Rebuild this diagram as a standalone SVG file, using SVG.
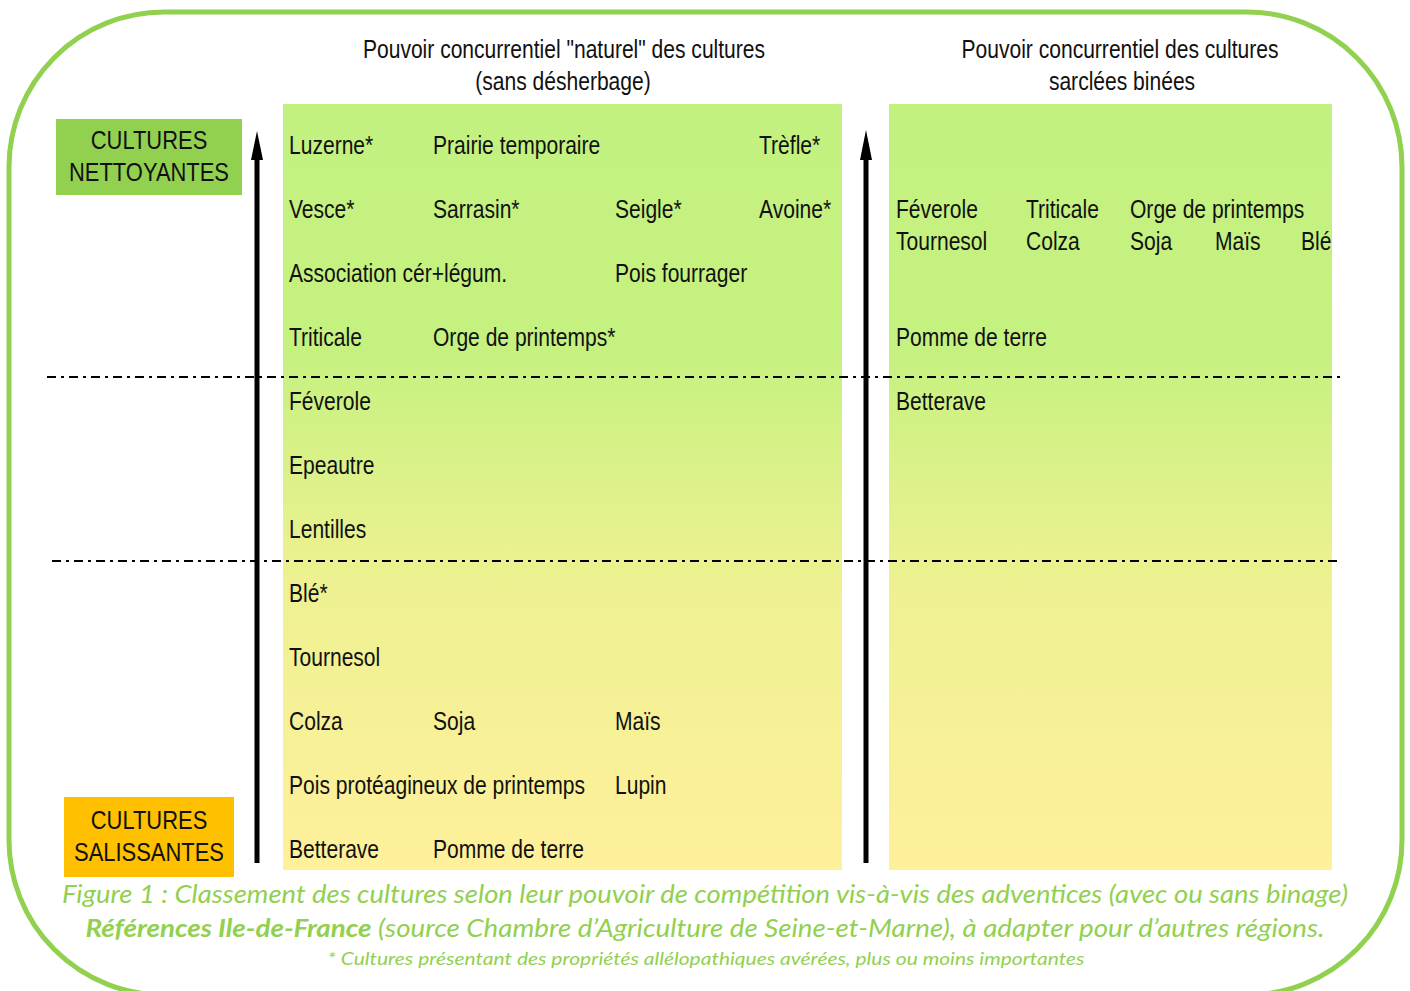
<svg xmlns="http://www.w3.org/2000/svg" width="1410" height="991" viewBox="0 0 1410 991">
<defs>
<linearGradient id="g" x1="0" y1="0" x2="0" y2="1">
<stop offset="0" stop-color="#c3f17f"/>
<stop offset="0.33" stop-color="#c6f180"/>
<stop offset="0.6" stop-color="#ecf190"/>
<stop offset="1" stop-color="#fff09c"/>
</linearGradient>
</defs>
<style>
.t{font-family:"Liberation Sans Narrow","Arial Narrow","Liberation Sans",sans-serif;font-size:26px;fill:#111}
.h{font-family:"Liberation Sans","Arial",sans-serif;font-size:26px;fill:#111;text-anchor:middle}
.lab{font-family:"Liberation Sans","Arial",sans-serif;font-size:25.5px;fill:#111;text-anchor:middle}
.cap{font-family:Lato,"Liberation Sans",sans-serif;font-style:italic;fill:#92d050;text-anchor:middle}
.dd{stroke:#000;stroke-width:2;stroke-dasharray:9 5 3 5;fill:none}
.ar{stroke:#000;stroke-width:5;fill:none}
.c{font-family:"Liberation Sans","Arial",sans-serif;font-size:26px;fill:#111}
</style>
<rect id="frame" x="9" y="12" width="1393" height="983" rx="155" ry="155" fill="#fff" stroke="#92d050" stroke-width="5"/>
<g id="panel-left"><rect x="283" y="104" width="559" height="766" fill="url(#g)"/></g>
<g id="panel-right"><rect x="889" y="104" width="443" height="766" fill="url(#g)"/></g>
<g id="title-left">
<text class="h" transform="matrix(0.81 0 0 1 564 58)">Pouvoir concurrentiel "naturel" des cultures</text>
<text class="h" transform="matrix(0.81 0 0 1 563 90)">(sans désherbage)</text>
</g>
<g id="title-right">
<text class="h" transform="matrix(0.81 0 0 1 1120 58)">Pouvoir concurrentiel des cultures</text>
<text class="h" transform="matrix(0.81 0 0 1 1122 90)">sarclées binées</text>
</g>
<g id="label-nettoyantes">
<rect x="56" y="119" width="186" height="76" fill="#92d050"/>
<text class="lab" transform="matrix(0.86 0 0 1 149 149)">CULTURES</text>
<text class="lab" transform="matrix(0.86 0 0 1 149 181)">NETTOYANTES</text>
</g>
<g id="label-salissantes">
<rect x="64" y="797" width="170" height="80" fill="#ffc000"/>
<text class="lab" transform="matrix(0.86 0 0 1 149 829)">CULTURES</text>
<text class="lab" transform="matrix(0.86 0 0 1 149 861)">SALISSANTES</text>
</g>
<g id="connectors">
<line class="ar" x1="257" y1="863" x2="257" y2="156"/>
<polygon points="257,131 263,160 251,160" fill="#000"/>
<line class="ar" x1="866" y1="863" x2="866" y2="156"/>
<polygon points="866,130 872,160 860,160" fill="#000"/>
<line class="dd" x1="47" y1="377" x2="1340" y2="377"/>
<line class="dd" x1="52" y1="561" x2="1339" y2="561"/>
</g>
<g id="crops-left">
<text class="c" transform="matrix(0.81 0 0 1 289 154)">Luzerne*</text>
<text class="c" transform="matrix(0.81 0 0 1 433 154)">Prairie temporaire</text>
<text class="c" transform="matrix(0.81 0 0 1 759 154)">Trèfle*</text>
<text class="c" transform="matrix(0.81 0 0 1 289 218)">Vesce*</text>
<text class="c" transform="matrix(0.81 0 0 1 433 218)">Sarrasin*</text>
<text class="c" transform="matrix(0.81 0 0 1 615 218)">Seigle*</text>
<text class="c" transform="matrix(0.81 0 0 1 759 218)">Avoine*</text>
<text class="c" transform="matrix(0.81 0 0 1 289 282)">Association cér+légum.</text>
<text class="c" transform="matrix(0.81 0 0 1 615 282)">Pois fourrager</text>
<text class="c" transform="matrix(0.81 0 0 1 289 346)">Triticale</text>
<text class="c" transform="matrix(0.81 0 0 1 433 346)">Orge de printemps*</text>
<text class="c" transform="matrix(0.81 0 0 1 289 410)">Féverole</text>
<text class="c" transform="matrix(0.81 0 0 1 289 474)">Epeautre</text>
<text class="c" transform="matrix(0.81 0 0 1 289 538)">Lentilles</text>
<text class="c" transform="matrix(0.81 0 0 1 289 602)">Blé*</text>
<text class="c" transform="matrix(0.81 0 0 1 289 666)">Tournesol</text>
<text class="c" transform="matrix(0.81 0 0 1 289 730)">Colza</text>
<text class="c" transform="matrix(0.81 0 0 1 433 730)">Soja</text>
<text class="c" transform="matrix(0.81 0 0 1 615 730)">Maïs</text>
<text class="c" transform="matrix(0.81 0 0 1 289 794)">Pois protéagineux de printemps</text>
<text class="c" transform="matrix(0.81 0 0 1 615 794)">Lupin</text>
<text class="c" transform="matrix(0.81 0 0 1 289 858)">Betterave</text>
<text class="c" transform="matrix(0.81 0 0 1 433 858)">Pomme de terre</text>
</g>
<g id="crops-right">
<text class="c" transform="matrix(0.81 0 0 1 896 218)">Féverole</text>
<text class="c" transform="matrix(0.81 0 0 1 1026 218)">Triticale</text>
<text class="c" transform="matrix(0.81 0 0 1 1130 218)">Orge de printemps</text>
<text class="c" transform="matrix(0.81 0 0 1 896 250)">Tournesol</text>
<text class="c" transform="matrix(0.81 0 0 1 1026 250)">Colza</text>
<text class="c" transform="matrix(0.81 0 0 1 1130 250)">Soja</text>
<text class="c" transform="matrix(0.81 0 0 1 1215 250)">Maïs</text>
<text class="c" transform="matrix(0.81 0 0 1 1301 250)">Blé</text>
<text class="c" transform="matrix(0.81 0 0 1 896 346)">Pomme de terre</text>
<text class="c" transform="matrix(0.81 0 0 1 896 410)">Betterave</text>
</g>
<g id="caption">
<text class="cap" x="705" y="903" font-size="25" textLength="1286" lengthAdjust="spacingAndGlyphs">Figure 1 : Classement des cultures selon leur pouvoir de compétition vis-à-vis des adventices (avec ou sans binage)</text>
<text class="cap" x="705" y="937" font-size="25" textLength="1239" lengthAdjust="spacingAndGlyphs"><tspan font-weight="bold">Références Ile-de-France</tspan> (source Chambre d’Agriculture de Seine-et-Marne), à adapter pour d’autres régions.</text>
<text class="cap" x="706" y="965" font-size="18" textLength="757" lengthAdjust="spacingAndGlyphs">* Cultures présentant des propriétés allélopathiques avérées, plus ou moins importantes</text>
</g>
</svg>
